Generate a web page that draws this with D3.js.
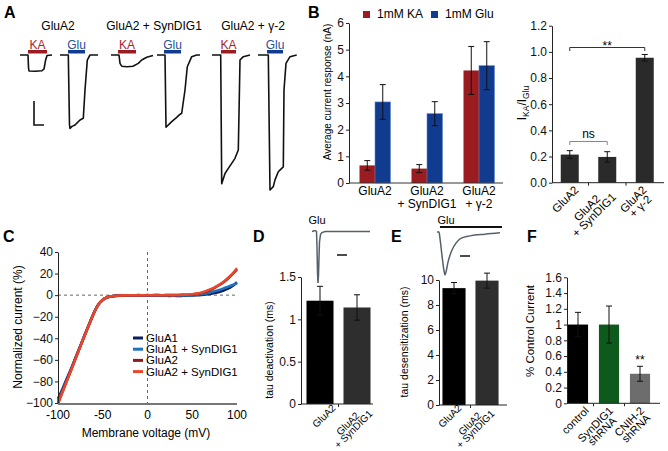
<!DOCTYPE html>
<html>
<head>
<meta charset="utf-8">
<script src="https://cdn.jsdelivr.net/npm/d3@7"></script>
<style>
  body { margin: 0; background: #fff; }
  svg { display: block; font-family: "Liberation Sans", Arial, sans-serif; }
</style>
</head>
<body>
<svg id="fig" width="668" height="451"></svg>
<script>
"use strict";

/* ---------- data ---------- */

// A: example traces, [time (ms), current (nA)]
const aTitles = ["GluA2", "GluA2 + SynDIG1", "GluA2 + γ-2"];
const aAgonists = ["KA", "Glu", "KA", "Glu", "KA", "Glu"];
const aApply = [[8, 27], [8, 25], [7, 25], [7, 24], [9, 24], [9, 25]];
const traceA2KA = [[0, 0], [8, 0], [8.5, -0.45], [9, -0.57], [15, -0.58], [22, -0.56], [24, -0.5], [25.5, -0.2], [27, -0.02], [32, 0]];
const traceA2Glu = [[0, 0], [8.3, 0], [9.5, -2.5], [10, -2.62], [12, -2.55], [15, -2.5], [20, -2.32], [23.3, -2.26], [25, -1.25], [27.3, -0.18], [30, 0], [38, 0]];
const traceSynKA = [[0, 0], [8, 0], [9, -0.3], [10.7, -0.4], [16, -0.42], [22, -0.4], [27.3, -0.3], [30.7, -0.18], [35.7, -0.08], [42, -0.02]];
const traceSynGlu = [[0, 0], [8, 0], [9, -2.58], [14.7, -2.38], [19.7, -2.23], [22.3, -2.14], [24.7, -2.08], [28, -1.25], [30.3, -0.42], [34.7, -0.06], [39.7, 0], [43, 0]];
const traceG2KA = [[0, 0], [8.7, 0], [9.7, -4.6], [13, -4.23], [16.3, -4.05], [19.7, -3.87], [23, -3.69], [26.3, -3.39], [28, -0.18], [31.3, -0.06], [38, 0]];
const traceG2Glu = [[0, 0], [10.3, 0], [12, -4.82], [15.3, -4.7], [17, -4.46], [20.3, -4.17], [23.7, -4.05], [25.3, -4.0], [26, -1.25], [28, -0.3], [32, -0.06], [38.7, 0]];

// B: average current (nA)
const bGroups = ["GluA2", "GluA2\n+ SynDIG1", "GluA2\n+ γ-2"];
const bKA = [0.66, 0.54, 4.22];
const bKAErr = [0.18, 0.15, 0.9];
const bGlu = [3.04, 2.6, 4.4];
const bGluErr = [0.65, 0.45, 0.9];
const bRatio = [0.215, 0.197, 0.955];
const bRatioErr = [0.03, 0.04, 0.025];

// C: I-V relations, normalized current (%)
const cVolt = [-100, -95, -90, -85, -80, -75, -70, -65, -60, -55, -50, -45, -40, -35, -30, -25, -20, -15, -10, -5, 0,
  5, 10, 15, 20, 25, 30, 35, 40, 45, 50, 55, 60, 65, 70, 75, 80, 85, 90, 95, 100];
const cGluA1 = [-96, -87, -77, -67.5, -57, -47, -36.5, -26.5, -16.8, -9, -4.6, -2.2, -1.2, -0.7, -0.5, -0.4, -0.3, -0.5, -0.2, -0.4, -0.3,
  -0.5, -0.3, -0.6, -0.4, -0.7, -0.5, -0.8, -0.6, -0.4, -0.3, -0.1, 0.2, 0.6, 1.2, 2, 3, 4.3, 6, 8.5, 12];
const cGluA1Syn = [-98, -88.5, -78, -68, -57.5, -47.2, -36.8, -26.6, -16.6, -8.8, -4.4, -2, -1, -0.6, -0.4, -0.3, -0.2, -0.4, -0.1, -0.3, -0.2,
  -0.3, -0.1, -0.4, -0.2, -0.4, -0.2, -0.4, -0.2, -0.1, 0, 0.3, 0.8, 1.5, 2.5, 3.6, 4.8, 6.3, 7.8, 9.4, 11];
const cGluA2 = [-100, -89.5, -79, -68.5, -58, -47.5, -37, -26.8, -16.8, -8.8, -4.3, -2, -1, -0.5, -0.3, -0.2, -0.1, -0.2, 0, -0.1, 0,
  -0.1, 0.1, -0.1, 0, 0.1, 0, 0.2, 0.3, 0.4, 0.6, 1.2, 2, 3.2, 4.8, 6.8, 9.2, 12, 15.5, 19.5, 24];
const cGluA2Syn = [-101, -90, -79.5, -69, -58, -47.5, -37, -27, -17, -9, -4.5, -2, -1, -0.5, -0.3, -0.2, -0.1, -0.2, 0, -0.1, 0,
  -0.1, 0.1, -0.1, 0, 0.1, 0, 0.2, 0.3, 0.5, 0.8, 1.4, 2.3, 3.6, 5.2, 7.2, 9.5, 12.5, 16, 20, 25];
const cNames = ["GluA1", "GluA1 + SynDIG1", "GluA2", "GluA2 + SynDIG1"];

// D, E: kinetics (ms) and example traces [time, normalized current]
const deLabels = ["GluA2", "GluA2\n+ SynDIG1"];
const dTau = [1.22, 1.14];
const dErr = [0.17, 0.15];
const eTau = [9.35, 9.95];
const eErr = [0.45, 0.6];
const dTrace = [[0, 0], [3, 0.02], [4.5, 0], [5, -0.3], [5.5, -0.8], [6, -1], [6.5, -0.85], [7, -0.5], [7.5, -0.2], [8.5, -0.06], [10, -0.02], [13, 0], [58, 0]];
const eTrace = [[0, 0], [2, 0], [3, -0.15], [5, -0.55], [7, -0.9], [8, -1], [9, -0.93], [11, -0.7], [15, -0.42], [19, -0.26], [23, -0.16], [33, -0.09], [48, -0.05], [63, -0.02]];

// F: % control current
const fLabels = ["control", "SynDIG1\nshRNA", "CNIH-2\nshRNA"];
const fVal = [1.0, 1.0, 0.375];
const fErr = [0.155, 0.235, 0.095];

/* ---------- drawing ---------- */

const KA_COLOR = "#9b1c20";
const GLU_COLOR = "#113b8f";
const svg = d3.select("#fig");

function letter(x, y, t) {
  svg.append("text").attr("x", x).attr("y", y).attr("font-size", 16).attr("font-weight", "bold").text(t);
}

function yTitle(x, y, t, size) {
  return svg.append("text")
    .attr("transform", `translate(${x},${y}) rotate(-90)`)
    .attr("text-anchor", "middle")
    .attr("font-size", size)
    .text(t);
}

function leftAxis(g, y, x, ticks, fmt) {
  g.append("g")
    .attr("transform", `translate(${x},0)`)
    .call(d3.axisLeft(y).tickValues(ticks).tickFormat(fmt).tickSize(3).tickSizeOuter(0))
    .attr("font-size", 12)
    .attr("font-family", null)
    .call(a => a.selectAll("text").attr("fill", "#111").attr("x", -5))
    .call(a => a.selectAll("line,path").attr("stroke", "#222"));
}

function errBars(g, xs, y, vals, errs) {
  vals.forEach((v, i) => {
    const x = xs[i];
    g.append("line").attr("x1", x).attr("x2", x).attr("y1", y(v - errs[i])).attr("y2", y(v + errs[i]))
      .attr("stroke", "#111").attr("stroke-width", 1);
    [v - errs[i], v + errs[i]].forEach(e => {
      g.append("line").attr("x1", x - 3).attr("x2", x + 3).attr("y1", y(e)).attr("y2", y(e))
        .attr("stroke", "#111").attr("stroke-width", 1);
    });
  });
}

// rotated (-45deg) category labels; the block's top sits at yTop, its right edge at center + rdx
function rotLabels(g, xs, labels, yTop, rdx, size, lead) {
  labels.forEach((lab, i) => {
    const lines = lab.split("\n");
    const t = g.append("text")
      .attr("font-size", size)
      .attr("text-anchor", "middle")
      .attr("transform", "rotate(-45)");
    const spans = lines.map((ln, j) => t.append("tspan").attr("y", (j - (lines.length - 1) / 2) * lead).text(ln));
    const w = d3.max(spans, s => s.node().getComputedTextLength());
    spans.forEach(s => s.attr("x", -w / 2));
    const b = t.node().getBoundingClientRect();
    t.attr("transform", `translate(${xs[i] + rdx - b.right},${yTop - b.top}) rotate(-45)`);
  });
}

// simple single-series bar chart used by B (ratio), D, E and F
function barChart(o) {
  const g = svg.append("g");
  const x = d3.scaleBand().domain(o.labels).range(o.xRange);
  const y = d3.scaleLinear().domain(o.yDomain).range(o.yRange);
  const bw = x.bandwidth() * o.frac;
  const centers = o.labels.map(l => x(l) + x.bandwidth() / 2);

  g.selectAll("rect.bar")
    .data(o.values)
    .join("rect")
    .attr("class", "bar")
    .attr("x", (d, i) => centers[i] - bw / 2)
    .attr("y", d => y(d))
    .attr("width", bw)
    .attr("height", d => y(0) - y(d))
    .attr("fill", (d, i) => o.colors[i]);

  errBars(g, centers, y, o.values, o.errs);
  leftAxis(g, y, o.axisX, o.ticks, o.fmt);

  g.append("line").attr("x1", o.axisX).attr("x2", o.xEnd).attr("y1", y(0)).attr("y2", y(0)).attr("stroke", "#222");
  o.labels.slice(1).forEach(l => {
    g.append("line").attr("x1", x(l)).attr("x2", x(l)).attr("y1", y(0)).attr("y2", y(0) + 3).attr("stroke", "#222");
  });
  rotLabels(g, centers, o.labels, y(0) + o.gap, o.rdx, o.lsize, o.lead);
  return { g, x, y, centers };
}

/* A */
function drawPanelA() {
  const g = svg.append("g");
  const aY = d3.scaleLinear().domain([0, -5]).range([55, 195]);
  const aStarts = [20, 60, 111, 157, 212, 258];
  const traces = [traceA2KA, traceA2Glu, traceSynKA, traceSynGlu, traceG2KA, traceG2Glu];

  traces.forEach((tr, i) => {
    const x = d3.scaleLinear().domain([0, 10]).range([aStarts[i], aStarts[i] + 10]);
    const line = d3.line().x(d => x(d[0])).y(d => aY(d[1]));
    g.append("path").datum(tr).attr("d", line)
      .attr("fill", "none").attr("stroke", "#111").attr("stroke-width", 1.6).attr("stroke-linejoin", "round");

    const col = aAgonists[i] === "KA" ? KA_COLOR : GLU_COLOR;
    const app = aApply[i];
    g.append("rect").attr("x", x(app[0])).attr("y", 50).attr("width", x(app[1]) - x(app[0])).attr("height", 3.5).attr("fill", col);
    g.append("text").attr("x", (x(app[0]) + x(app[1])) / 2).attr("y", 48.5)
      .attr("text-anchor", "middle").attr("font-size", 12)
      .attr("fill", aAgonists[i] === "KA" ? "#a8262b" : "#1d4f9e")
      .text(aAgonists[i]);

    if (i === 0) {
      // scale bar
      const sx = x(14);
      g.append("path")
        .attr("d", `M${sx},${aY(-1.64)}V${aY(-2.5)}H${x(24)}`)
        .attr("fill", "none").attr("stroke", "#111").attr("stroke-width", 1.6);
    }
  });

  [58, 154, 253].forEach((cx, i) => {
    g.append("text").attr("x", cx).attr("y", 30).attr("text-anchor", "middle").attr("font-size", 12).text(aTitles[i]);
  });
}

/* B left: grouped bars */
function drawPanelB() {
  const g = svg.append("g");
  const x = d3.scaleBand().domain(bGroups).range([349, 505]);
  const y = d3.scaleLinear().domain([0, 6]).range([183, 23]);
  const centers = bGroups.map(d => x(d) + x.bandwidth() / 2);
  const half = 15.5;

  g.selectAll("rect.ka").data(bKA).join("rect")
    .attr("x", (d, i) => centers[i] - half).attr("y", d => y(d))
    .attr("width", half).attr("height", d => y(0) - y(d))
    .attr("fill", KA_COLOR);
  g.selectAll("rect.glu").data(bGlu).join("rect")
    .attr("x", (d, i) => centers[i]).attr("y", d => y(d))
    .attr("width", half).attr("height", d => y(0) - y(d))
    .attr("fill", GLU_COLOR).attr("stroke", "#5f8ad0").attr("stroke-width", 0.6);

  errBars(g, centers.map(c => c - half / 2), y, bKA, bKAErr);
  errBars(g, centers.map(c => c + half / 2), y, bGlu, bGluErr);

  leftAxis(g, y, 349, [0, 1, 2, 3, 4, 5, 6], d3.format("d"));
  g.append("line").attr("x1", 349).attr("x2", 503).attr("y1", y(0)).attr("y2", y(0)).attr("stroke", "#333");

  bGroups.forEach((lab, i) => {
    const t = g.append("text").attr("text-anchor", "middle").attr("font-size", 12);
    lab.split("\n").forEach((ln, j) => {
      t.append("tspan").attr("x", centers[i]).attr("y", 195 + j * 12.5).text(ln);
    });
  });

  yTitle(331, 92, "Average current response (nA)", 10);

  // legend
  [["1mM KA", KA_COLOR, 363], ["1mM Glu", GLU_COLOR, 431]].forEach(([t, c, lx]) => {
    g.append("rect").attr("x", lx).attr("y", 11).attr("width", 7).attr("height", 7).attr("fill", c);
    g.append("text").attr("x", lx + 14).attr("y", 18).attr("font-size", 12).text(t);
  });

  // B right: KA/Glu ratio
  const r = barChart({
    labels: bGroups, values: bRatio, errs: bRatioErr,
    colors: ["#2a2a2a", "#2a2a2a", "#2a2a2a"],
    xRange: [551, 663.5], frac: 0.48, axisX: 552, xEnd: 664,
    yDomain: [0, 1.2], yRange: [182.7, 25.7],
    ticks: [0, 0.2, 0.4, 0.6, 0.8, 1.0, 1.2], fmt: d3.format(".1f"),
    gap: 1, rdx: 11, lsize: 11.5, lead: 10
  });
  const c = r.centers;
  r.g.append("path").attr("d", `M${c[0]},51V47.5H${c[2]}V51`).attr("fill", "none").attr("stroke", "#333");
  r.g.append("text").attr("x", (c[0] + c[2]) / 2).attr("y", 50).attr("text-anchor", "middle").attr("font-size", 12).text("**");
  r.g.append("path").attr("d", `M${c[0]},145V141.5H${c[1]}V145`).attr("fill", "none").attr("stroke", "#888");
  r.g.append("text").attr("x", (c[0] + c[1]) / 2).attr("y", 138).attr("text-anchor", "middle").attr("font-size", 12).text("ns");

  const yt = svg.append("text")
    .attr("transform", "translate(526,103) rotate(-90)")
    .attr("text-anchor", "middle").attr("font-size", 12);
  yt.append("tspan").text("I");
  yt.append("tspan").attr("font-size", 8.5).attr("dy", 3).text("KA");
  yt.append("tspan").attr("dy", -3).text("/I");
  yt.append("tspan").attr("font-size", 8.5).attr("dy", 3).text("Glu");
}

/* C: I-V curves */
function drawPanelC() {
  const g = svg.append("g");
  const x = d3.scaleLinear().domain([-100, 100]).range([58, 237]);
  const y = d3.scaleLinear().domain([-100, 40]).range([403, 252]);
  const colors = ["#0b1f5e", "#1b73c2", "#8c1c1c", "#e8472c"];
  const series = [cGluA1, cGluA1Syn, cGluA2, cGluA2Syn];

  g.append("line").attr("x1", x(-100)).attr("x2", x(100)).attr("y1", y(0)).attr("y2", y(0))
    .attr("stroke", "#666").attr("stroke-dasharray", "3,3");
  g.append("line").attr("x1", x(0)).attr("x2", x(0)).attr("y1", y(40)).attr("y2", y(-100))
    .attr("stroke", "#666").attr("stroke-dasharray", "3,3");

  const line = d3.line().x((d, i) => x(cVolt[i])).y(d => y(d)).curve(d3.curveMonotoneX);
  series.forEach((s, i) => {
    g.append("path").datum(s).attr("d", line)
      .attr("fill", "none").attr("stroke", colors[i]).attr("stroke-width", 2.6);
  });

  leftAxis(g, y, 58, [-100, -80, -60, -40, -20, 0, 20, 40], d3.format("d"));
  g.append("line").attr("x1", 58).attr("x2", 237).attr("y1", 404).attr("y2", 404)
    .attr("stroke", "#777").attr("stroke-width", 2);
  [-100, -50, 0, 50, 100].forEach(v => {
    g.append("text").attr("x", x(v)).attr("y", 419).attr("text-anchor", "middle").attr("font-size", 12).text(v);
  });
  g.append("text").attr("x", 146).attr("y", 437).attr("text-anchor", "middle").attr("font-size", 12).text("Membrane voltage (mV)");
  yTitle(22, 327, "Normalized current (%)", 12);

  cNames.forEach((n, i) => {
    const ly = 338 + i * 11.2;
    g.append("line").attr("x1", 133).attr("x2", 143).attr("y1", ly).attr("y2", ly)
      .attr("stroke", colors[i]).attr("stroke-width", 3);
    g.append("text").attr("x", 146).attr("y", ly + 4).attr("font-size", 11.5).text(n);
  });
}

/* D, E: kinetics */
function drawPanelDE() {
  barChart({
    labels: deLabels, values: dTau, errs: dErr, colors: ["#000", "#2e2e2e"],
    xRange: [301.5, 375.5], frac: 0.73, axisX: 301, xEnd: 373,
    yDomain: [0, 1.5], yRange: [404, 277],
    ticks: [0, 0.5, 1, 1.5], fmt: d => String(d),
    gap: -2, rdx: 18, lsize: 10, lead: 8
  });
  yTitle(273, 350, "tau deactivation (ms)", 10.5);

  barChart({
    labels: deLabels, values: eTau, errs: eErr, colors: ["#000", "#2e2e2e"],
    xRange: [437.5, 503.5], frac: 0.7, axisX: 439, xEnd: 507,
    yDomain: [0, 10], yRange: [405, 280],
    ticks: [0, 2, 4, 6, 8, 10], fmt: d3.format("d"),
    gap: -3, rdx: 10, lsize: 10, lead: 8
  });
  yTitle(408, 342, "tau desensitization (ms)", 10.5);

  // example traces
  const dx = d3.scaleLinear().domain([0, 10]).range([312, 322]);
  const dy = d3.scaleLinear().domain([0, -1]).range([231.5, 283]);
  svg.append("path").datum(dTrace)
    .attr("d", d3.line().x(d => dx(d[0])).y(d => dy(d[1])))
    .attr("fill", "none").attr("stroke", "#56606c").attr("stroke-width", 1.5);
  svg.append("line").attr("x1", dx(25)).attr("x2", dx(35)).attr("y1", 255).attr("y2", 255).attr("stroke", "#111").attr("stroke-width", 1.5);
  svg.append("text").attr("x", 317).attr("y", 224).attr("text-anchor", "middle").attr("font-size", 11).text("Glu");

  const ex = d3.scaleLinear().domain([0, 10]).range([437, 447]);
  const ey = d3.scaleLinear().domain([0, -1]).range([232, 275]);
  svg.append("path").datum(eTrace)
    .attr("d", d3.line().x(d => ex(d[0])).y(d => ey(d[1])).curve(d3.curveMonotoneX))
    .attr("fill", "none").attr("stroke", "#56606c").attr("stroke-width", 1.5);
  svg.append("line").attr("x1", ex(3)).attr("x2", ex(65)).attr("y1", 227).attr("y2", 227).attr("stroke", "#111").attr("stroke-width", 2);
  svg.append("line").attr("x1", ex(23)).attr("x2", ex(33)).attr("y1", 256).attr("y2", 256).attr("stroke", "#111").attr("stroke-width", 1.5);
  svg.append("text").attr("x", 446).attr("y", 224).attr("text-anchor", "middle").attr("font-size", 11).text("Glu");
}

/* F */
function drawPanelF() {
  const r = barChart({
    labels: fLabels, values: fVal, errs: fErr, colors: ["#000", "#0d5a1c", "#6d6d6d"],
    xRange: [562.5, 655.5], frac: 0.65, axisX: 567, xEnd: 660,
    yDomain: [0, 1.6], yRange: [403.3, 277.3],
    ticks: [0, 0.2, 0.4, 0.6, 0.8, 1, 1.2, 1.4, 1.6], fmt: d => String(+d.toFixed(1)),
    gap: 1, rdx: 13, lsize: 11, lead: 9.5
  });
  r.g.append("text").attr("x", r.centers[2]).attr("y", 364).attr("text-anchor", "middle").attr("font-size", 12).text("**");
  yTitle(534, 331, "% Control Current", 11.5);
}

drawPanelA();
drawPanelB();
drawPanelC();
drawPanelDE();
drawPanelF();

letter(4, 18, "A");
letter(308, 18, "B");
letter(3, 242, "C");
letter(253, 242, "D");
letter(391, 242, "E");
letter(527, 242, "F");
</script>
</body>
</html>
